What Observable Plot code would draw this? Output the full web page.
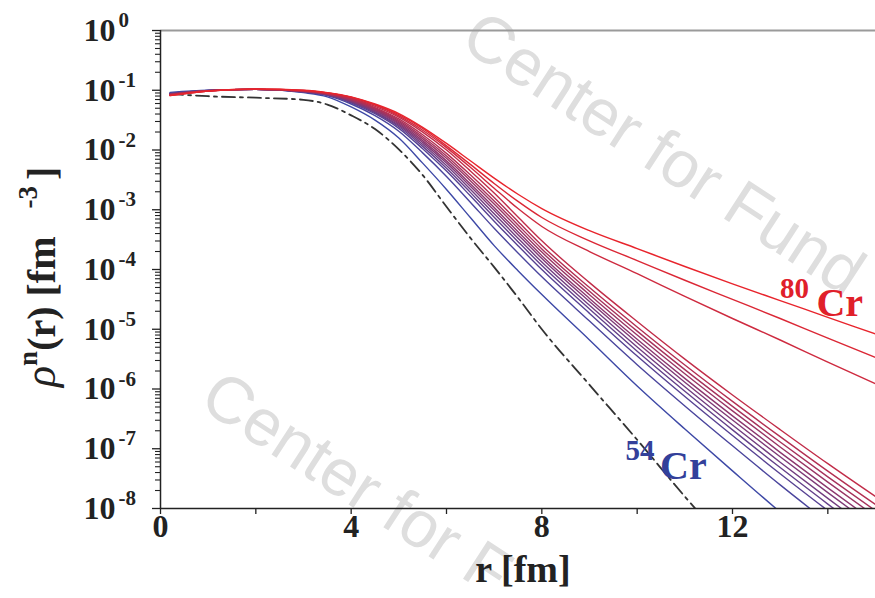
<!DOCTYPE html>
<html><head><meta charset="utf-8">
<script src="https://cdn.jsdelivr.net/npm/d3@7"></script>
<script src="https://cdn.jsdelivr.net/npm/@observablehq/plot@0.6"></script>
<style>body{margin:0;background:#fff;overflow:hidden}</style>
</head><body><div id="chart"></div>
<script>
// radial grid (fm)
const radius = [0.2, 1, 2, 3, 3.5, 4, 4.5, 5, 5.5, 6, 6.5, 7, 7.5, 8, 9, 10, 11, 12, 13, 14, 15];
// log10 of neutron density (fm^-3)
const cr54 = [-1.035, -1.00, -0.985, -1.04, -1.11, -1.28, -1.50, -1.80, -2.22, -2.66, -3.13, -3.60, -4.02, -4.42, -5.18, -5.95, -6.67, -7.37, -8.06, -8.72, -9.38];
const cr56 = [-1.05, -1.003, -0.985, -1.03, -1.09, -1.23, -1.424, -1.685, -2.048, -2.442, -2.873, -3.31, -3.723, -4.123, -4.863, -5.594, -6.284, -6.951, -7.605, -8.235, -8.859];
const cr58 = [-1.056, -1.005, -0.985, -1.026, -1.082, -1.21, -1.393, -1.637, -1.978, -2.353, -2.767, -3.191, -3.602, -4.002, -4.734, -5.448, -6.126, -6.779, -7.418, -8.036, -8.645];
const cr60 = [-1.059, -1.005, -0.985, -1.024, -1.078, -1.199, -1.376, -1.611, -1.939, -2.304, -2.709, -3.125, -3.534, -3.934, -4.662, -5.367, -6.038, -6.684, -7.315, -7.926, -8.527];
const cr62 = [-1.062, -1.006, -0.985, -1.022, -1.074, -1.189, -1.361, -1.588, -1.905, -2.261, -2.658, -3.068, -3.476, -3.876, -4.599, -5.297, -5.962, -6.602, -7.225, -7.831, -8.424];
const cr64 = [-1.065, -1.007, -0.985, -1.02, -1.07, -1.18, -1.346, -1.566, -1.872, -2.218, -2.607, -3.01, -3.417, -3.817, -4.537, -5.226, -5.886, -6.519, -7.135, -7.735, -8.321];
const cr66 = [-1.068, -1.007, -0.985, -1.018, -1.067, -1.171, -1.333, -1.546, -1.843, -2.182, -2.565, -2.962, -3.368, -3.768, -4.484, -5.167, -5.822, -6.449, -7.06, -7.654, -8.235];
const cr68 = [-1.071, -1.008, -0.985, -1.016, -1.063, -1.162, -1.318, -1.524, -1.809, -2.139, -2.514, -2.905, -3.309, -3.709, -4.422, -5.097, -5.746, -6.367, -6.97, -7.559, -8.132];
const cr70 = [-1.073, -1.008, -0.985, -1.015, -1.059, -1.153, -1.305, -1.503, -1.778, -2.099, -2.467, -2.852, -3.255, -3.655, -4.364, -5.032, -5.676, -6.291, -6.887, -7.471, -8.037];
const cr72 = [-1.076, -1.009, -0.985, -1.013, -1.055, -1.143, -1.29, -1.48, -1.744, -2.056, -2.416, -2.795, -3.197, -3.597, -4.302, -4.962, -5.599, -6.208, -6.797, -7.375, -7.934];
const cr74 = [-1.08, -1.01, -0.985, -1.01, -1.05, -1.13, -1.27, -1.45, -1.70, -2.00, -2.35, -2.72, -3.12, -3.52, -4.22, -4.87, -5.50, -6.10, -6.68, -7.25, -7.80];
const cr76 = [-1.085, -1.012, -0.982, -1.005, -1.046, -1.12, -1.25, -1.43, -1.67, -1.96, -2.29, -2.64, -2.98, -3.28, -3.70, -4.07, -4.45, -4.82, -5.18, -5.55, -5.91];
const cr78 = [-1.088, -1.013, -0.981, -1.002, -1.043, -1.115, -1.24, -1.41, -1.64, -1.93, -2.24, -2.56, -2.86, -3.13, -3.52, -3.85, -4.18, -4.50, -4.82, -5.15, -5.47];
const cr80 = [-1.09, -1.015, -0.98, -1.00, -1.04, -1.11, -1.23, -1.39, -1.62, -1.89, -2.18, -2.47, -2.74, -2.98, -3.35, -3.65, -3.95, -4.24, -4.52, -4.80, -5.08];
// dash-dot reference curve
const refRadius = [0.2, 1, 2, 3, 3.5, 4, 4.5, 5, 5.5, 6, 6.5, 7, 7.5, 8, 9, 10, 11, 12];
const refLog = [-1.06, -1.10, -1.125, -1.16, -1.24, -1.42, -1.65, -1.99, -2.42, -2.95, -3.47, -3.96, -4.47, -5.00, -5.93, -6.85, -7.80, -8.70];

const massNumbers = [54, 56, 58, 60, 62, 64, 66, 68, 70, 72, 74, 76, 78, 80];
const seriesLogs = [cr54, cr56, cr58, cr60, cr62, cr64, cr66, cr68, cr70, cr72, cr74, cr76, cr78, cr80];
const yTickExponents = [0, -1, -2, -3, -4, -5, -6, -7, -8];
const xTicks = [0, 2, 4, 6, 8, 10, 12, 14];
const xTickLabels = [0, 4, 8, 12];

const rows = (rs, logs) => rs.map((r, i) => ({r, rho: Math.pow(10, logs[i])}));
const color = d3.interpolateRgb("#3d48a6", "#e8242c");
const serif = "'Liberation Serif','Times New Roman',serif";

const minorTicks = [];
for (let e = -8; e < 0; e++) for (let k = 2; k <= 9; k++) minorTicks.push(k * Math.pow(10, e));

const lineMarks = seriesLogs.map((logs, i) =>
  Plot.line(rows(radius, logs), {x: "r", y: "rho", stroke: color(i / (massNumbers.length - 1)), strokeWidth: 1.4, curve: "monotone-x", clip: true})
);

const plot = Plot.plot({
  width: 875, height: 598,
  marginLeft: 160, marginRight: 0, marginTop: 30, marginBottom: 90,
  style: {fontFamily: serif, background: "white", color: "#222"},
  x: {domain: [0, 15], label: null},
  y: {type: "log", domain: [1e-8, 1], label: null},
  marks: [
    Plot.ruleY([1], {stroke: "#9a9a9a", strokeWidth: 2}),
    Plot.line(rows(refRadius, refLog), {x: "r", y: "rho", stroke: "#333", strokeWidth: 1.8, strokeDasharray: "13,5,3,5", curve: "monotone-x", clip: true}),
    ...lineMarks,
    Plot.ruleX([0], {stroke: "#222", strokeWidth: 1.5}),
    Plot.ruleY([1e-8], {stroke: "#222", strokeWidth: 1.5}),
    Plot.axisY({ticks: yTickExponents.map(e => Math.pow(10, e)), tickSize: 8, tickFormat: () => "", label: null, strokeWidth: 1.3}),
    Plot.axisY({ticks: minorTicks, tickSize: 5, tickFormat: () => "", label: null, strokeWidth: 1.1}),
    Plot.axisX({ticks: xTicks, tickSize: 6, tickFormat: () => "", label: null, strokeWidth: 1.3}),
    Plot.text(yTickExponents, {y: e => Math.pow(10, e), frameAnchor: "left", text: () => "10", dx: -45, textAnchor: "end", fontSize: 32, fontWeight: "bold", fill: "#222"}),
    Plot.text(yTickExponents, {y: e => Math.pow(10, e), frameAnchor: "left", text: e => String(e), dx: -42, dy: -10, textAnchor: "start", fontSize: 21, fontWeight: "bold", fill: "#222"}),
    Plot.text(xTickLabels, {x: d => d, frameAnchor: "bottom", text: d => String(d), dy: 28, fontSize: 32, fontWeight: "bold", fill: "#222"}),
    Plot.text(["r [fm]"], {frameAnchor: "bottom", dx: 5, dy: 73, fontSize: 38, fontWeight: "bold", fill: "#222"}),
    Plot.text(["54"], {x: 10.06, y: Math.pow(10, -7.03), fontSize: 29, fontWeight: "bold", fill: "#33409a"}),
    Plot.text(["Cr"], {x: 10.97, y: Math.pow(10, -7.30), fontSize: 40, fontWeight: "bold", fill: "#33409a"}),
    Plot.text(["80"], {x: 13.30, y: Math.pow(10, -4.32), fontSize: 29, fontWeight: "bold", fill: "#e0202a"}),
    Plot.text(["Cr"], {x: 14.25, y: Math.pow(10, -4.56), fontSize: 40, fontWeight: "bold", fill: "#e0202a"})
  ]
});
document.getElementById("chart").appendChild(plot);

const svg = d3.select(plot);
// watermark behind the marks
const wm = svg.insert("g", ":first-child").attr("font-family", "'Liberation Sans',Arial,sans-serif")
  .attr("font-size", 66).attr("fill", "#dedede").attr("text-anchor", "start");
wm.append("text").attr("transform", "translate(458,46) rotate(33)").text("Center for Fund");
wm.append("text").attr("transform", "translate(197,406) rotate(33)").text("Center for F");

// y axis title
const yl = svg.append("text").attr("transform", "translate(55,387) rotate(-90)")
  .attr("text-anchor", "start").attr("font-family", serif).attr("font-weight", "bold").attr("font-size", 40).attr("fill", "#222");
yl.append("tspan").attr("font-style", "italic").attr("font-weight", "normal").attr("font-size", 44).text("ρ");
yl.append("tspan").attr("font-size", 27).attr("dy", -18).text("n");
yl.append("tspan").attr("dy", 18).text("(r) [fm");
yl.append("tspan").attr("font-size", 27).attr("dy", -18).attr("dx", 28).text("-3");
yl.append("tspan").attr("dy", 18).attr("dx", 6).text("]");
</script>
</body></html>
